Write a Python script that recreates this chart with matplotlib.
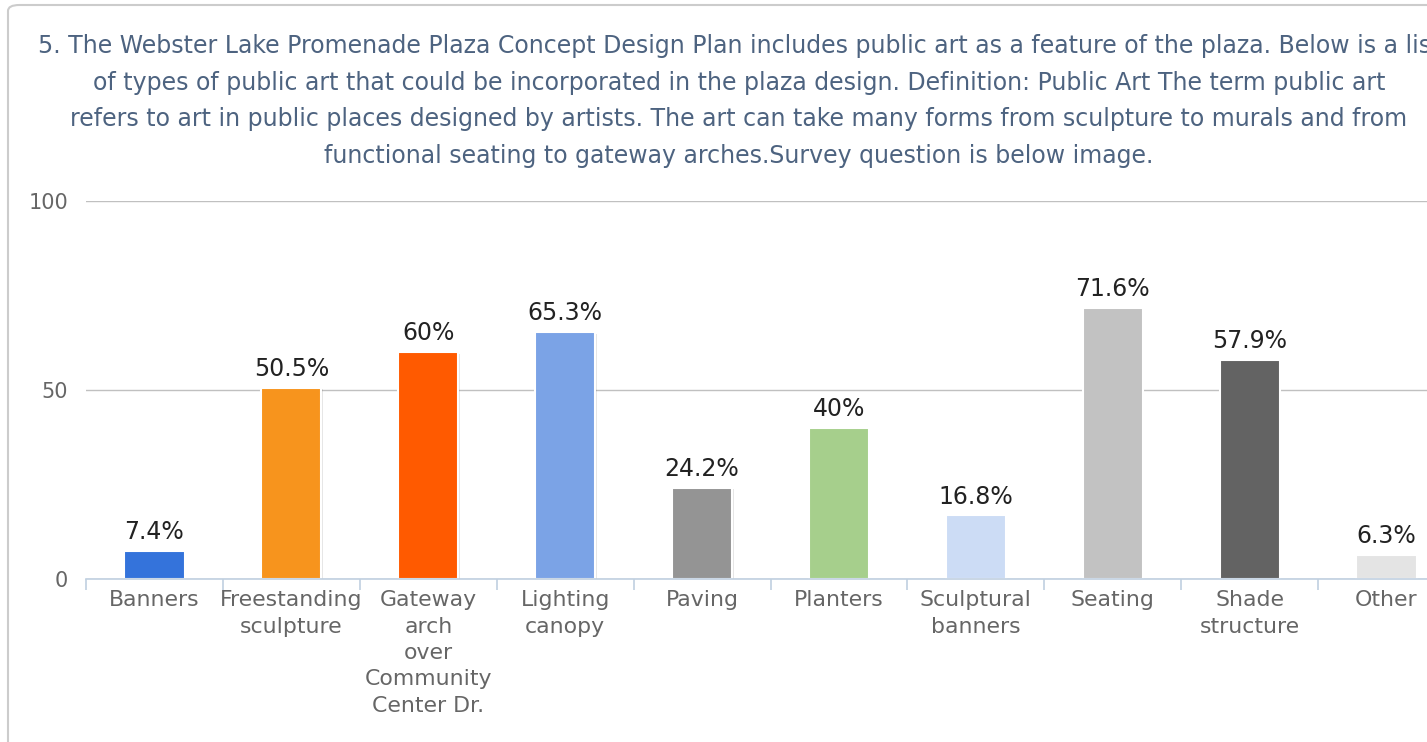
import matplotlib.pyplot as plt
from matplotlib.patches import FancyBboxPatch
import matplotlib.patheffects as pe

# data
categories = ['Banners', 'Freestanding\nsculpture', 'Gateway\narch\nover\nCommunity\nCenter Dr.',
              'Lighting\ncanopy', 'Paving', 'Planters', 'Sculptural\nbanners', 'Seating',
              'Shade\nstructure', 'Other']
values = [7.4, 50.5, 60, 65.3, 24.2, 40, 16.8, 71.6, 57.9, 6.3]
value_labels = ['7.4%', '50.5%', '60%', '65.3%', '24.2%', '40%', '16.8%', '71.6%', '57.9%', '6.3%']
colors = ['#3473db', '#f7941d', '#ff5a00', '#7ba3e6', '#949494', '#a6cf8c',
          '#ccdcf5', '#c2c2c2', '#636363', '#e4e4e4']
yticks = [0, 50, 100]

title = ("5. The Webster Lake Promenade Plaza Concept Design Plan includes public art as a feature of the plaza. Below is a list\n"
         "of types of public art that could be incorporated in the plaza design. Definition: Public Art The term public art\n"
         "refers to art in public places designed by artists. The art can take many forms from sculpture to murals and from\n"
         "functional seating to gateway arches.Survey question is below image.")

W, H = 1427, 742
fig = plt.figure(figsize=(W / 100, H / 100), dpi=100)

# outer rounded frame (clipped on right/bottom like the screenshot)
frame = FancyBboxPatch((8 / W, -0.2), 1.2, 1 - 5 / H + 0.2, transform=fig.transFigure,
                       boxstyle='round,pad=0,rounding_size=0.008', fill=False,
                       edgecolor='#cccccc', linewidth=1.5, clip_on=False)
fig.patches.append(frame)

# title block, centred on the (partly hidden) chart width
fig.text(739 / W, 1 - 101 / H, title, ha='center', va='center', multialignment='center',
         fontsize=17, color='#4d6380', linespacing=1.67)

ax = fig.add_axes([86 / W, 163 / H, (1455 - 86) / W, 378 / H])
x = range(len(categories))
bars = ax.bar(x, values, width=0.44, color=colors, edgecolor='white', linewidth=1.5, zorder=3)
for b in bars:
    b.set_path_effects([pe.SimplePatchShadow(offset=(1, -1), shadow_rgbFace='#000000', alpha=0.1),
                        pe.Normal()])

for xi, v, lab in zip(x, values, value_labels):
    ax.annotate(lab, (xi, v), xytext=(0, 5), textcoords='offset points',
                ha='center', va='bottom', fontsize=17, color='#222222')

ax.set_xlim(-0.5, 9.5)
ax.set_ylim(0, 100)
ax.set_yticks(yticks)
ax.set_yticklabels([str(t) for t in yticks], fontsize=15, color='#666666')
ax.tick_params(axis='y', length=0, pad=13)
ax.grid(axis='y', color='#c0c0c0', linewidth=1, zorder=0)

ax.set_xticks(list(x))
ax.set_xticklabels(categories, fontsize=15.8, color='#666666', linespacing=1.4)
ax.tick_params(axis='x', which='major', length=0, pad=8)
ax.set_xticks([i - 0.5 for i in range(len(categories) + 1)], minor=True)
ax.tick_params(axis='x', which='minor', length=8, color='#c0d0e0', width=1.2)

for s in ['top', 'right', 'left']:
    ax.spines[s].set_visible(False)
ax.spines['bottom'].set_color('#c0d0e0')
ax.spines['bottom'].set_linewidth(1.2)
ax.spines['bottom'].set_zorder(4)

fig.savefig('out.png', dpi=100)
